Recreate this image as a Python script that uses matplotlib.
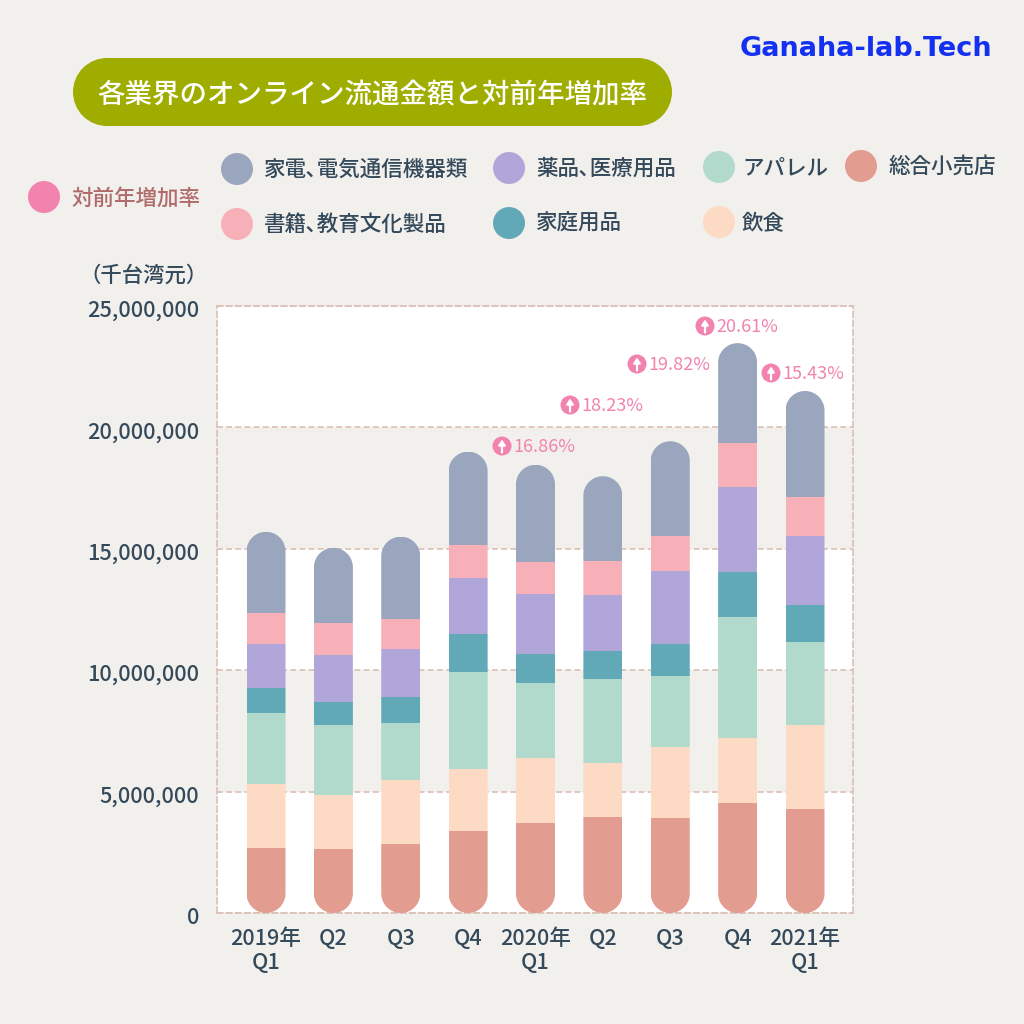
import numpy as np
import matplotlib
matplotlib.use("Agg")
import matplotlib.pyplot as plt
from matplotlib.patches import Circle, Rectangle
from matplotlib.path import Path
from matplotlib.ticker import FuncFormatter
from matplotlib.transforms import ScaledTranslation

plt.rcParams['font.family'] = ['Noto Sans CJK JP', 'DejaVu Sans']

quarters = ['2019年\nQ1', 'Q2', 'Q3', 'Q4', '2020年\nQ1', 'Q2', 'Q3', 'Q4', '2021年\nQ1']
retail     = [2680000, 2640000, 2840000, 3380000, 3710000, 3950000, 3910000, 4530000, 4280000]
food       = [2640000, 2220000, 2640000, 2550000, 2680000, 2220000, 2920000, 2680000, 3460000]
apparel    = [2920000, 2880000, 2350000, 4000000, 3090000, 3460000, 2920000, 4980000, 3420000]
home       = [1030000,  950000, 1070000, 1570000, 1190000, 1150000, 1320000, 1850000, 1520000]
drug       = [1810000, 1940000, 1980000, 2310000, 2470000, 2310000, 3010000, 3500000, 2840000]
books      = [1280000, 1320000, 1240000, 1360000, 1320000, 1400000, 1440000, 1810000, 1610000]
appliances = [3340000, 3090000, 3380000, 3830000, 4000000, 3500000, 3910000, 4120000, 4370000]

series_names = ['総合小売店', '飲食', 'アパレル', '家庭用品', '薬品､医療用品', '書籍､教育文化製品', '家電､電気通信機器類']
series_vals = [retail, food, apparel, home, drug, books, appliances]
series_cols = ['#E29C90', '#FCDAC3', '#B1D9CC', '#62A9B8', '#B0A6D9', '#F8B0B8', '#9AA5BE']

growth_labels = ['16.86%', '18.23%', '19.82%', '20.61%', '15.43%']
growth_pos = [(502, 446), (570, 405), (637, 364), (705, 326), (771, 373)]

BG = '#F2F0ED'
DARK = '#34495A'
PINK = '#F283AE'
DASH = '#D9BFB5'
W, H = 1024, 1024

fig = plt.figure(figsize=(W/100, H/100), dpi=100, facecolor=BG)
L, R, T, B = 217, 853, 306, 913
ax = fig.add_axes([L/W, 1-B/H, (R-L)/W, (B-T)/H])
ax.set_facecolor('white')
unit = 67.375
ax.set_xlim((L-266)/unit, (R-266)/unit)
ax.set_ylim(0, 25000000)

for lo, hi in [(5000000, 10000000), (15000000, 20000000)]:
    ax.axhspan(lo, hi, color=BG, lw=0, zorder=0)
ax.set_axisbelow(True)
ax.yaxis.grid(True, color=DASH, lw=1.2, ls=(0, (3.5, 2)), zorder=1)
for s in ax.spines.values():
    s.set_color(DASH)
    s.set_linewidth(1.2)
    s.set_linestyle((0, (3.5, 2)))

bw_px = 39
bw = bw_px/unit
x = np.arange(len(quarters))
rx = bw/2
ry = (bw_px/2)*25000000/(B-T)
totals = np.sum(series_vals, axis=0)
bottom = np.zeros(len(quarters))
t = np.linspace(0, np.pi, 40)
for vals, col in zip(series_vals, series_cols):
    bars = ax.bar(x, vals, bw, bottom=bottom, color=col, lw=0, zorder=3)
    for i, b in enumerate(bars):
        top = np.c_[x[i]+rx*np.cos(t), totals[i]-ry+ry*np.sin(t)]
        bot = np.c_[x[i]-rx*np.cos(t), ry-ry*np.sin(t)]
        v = np.vstack([top, bot, top[:1]])
        b.set_clip_path(Path(v), ax.transData)
    bottom += np.array(vals)

ax.set_xticks(x)
ax.set_xticklabels(quarters, fontsize=15.6, color=DARK, linespacing=1.12, fontweight='medium')
ax.yaxis.set_major_formatter(FuncFormatter(lambda v, p: f'{int(v):,}'))
ax.set_yticks(np.arange(0, 25000001, 5000000))
ax.tick_params(axis='y', length=0, pad=13, labelsize=15.7, labelcolor=DARK)
ax.tick_params(axis='x', length=0, pad=11)
shift = ScaledTranslation(0, -2.5/100, fig.dpi_scale_trans)
for lab in ax.get_yticklabels():
    lab.set_fontweight('medium')
    lab.set_transform(lab.get_transform() + shift)

ov = fig.add_axes([0, 0, 1, 1], facecolor='none')
ov.set_xlim(0, W)
ov.set_ylim(H, 0)
ov.axis('off')

ov.add_patch(Rectangle((107, 58), 531, 68, fc='#9FAD00', ec='none'))
ov.add_patch(Circle((107, 92), 34, fc='#9FAD00', ec='none'))
ov.add_patch(Circle((638, 92), 34, fc='#9FAD00', ec='none'))
ov.text(372.5, 95, '各業界のオンライン流通金額と対前年増加率', color='white', fontsize=19.8,
        ha='center', va='center', fontweight='medium')
ov.text(866, 49, 'Ganaha-lab.Tech', color='#1430F0', fontsize=19.5, family='DejaVu Sans',
        fontweight='bold', ha='center', va='center')

legend_items = [
    (237, 169, 264, series_names[6], series_cols[6]),
    (509, 168, 536, series_names[4], series_cols[4]),
    (719, 167, 742, series_names[2], series_cols[2]),
    (861, 166, 889, series_names[0], series_cols[0]),
    (237, 224, 264, series_names[5], series_cols[5]),
    (509, 223, 536, series_names[3], series_cols[3]),
    (719, 222, 742, series_names[1], series_cols[1]),
]
for cx, cy, tx, name, col in legend_items:
    ov.add_patch(Circle((cx, cy), 16, fc=col, ec='none'))
    ov.text(tx, cy+1, name, fontsize=15.5, color=DARK, ha='left', va='center', fontweight='medium')
ov.add_patch(Circle((44, 197), 16, fc=PINK, ec='none'))
ov.text(71, 199, '対前年増加率', fontsize=15.5, color='#B06A6A', ha='left', va='center', fontweight='medium')
ov.text(208, 276, '（千台湾元）', fontsize=15.4, color=DARK, ha='right', va='center', fontweight='medium')

for (cx, cy), lab in zip(growth_pos, growth_labels):
    ov.add_patch(Circle((cx, cy), 9.5, fc=PINK, ec='none'))
    ov.annotate('', xy=(cx, cy-6.5), xytext=(cx, cy+6.5),
                arrowprops=dict(arrowstyle='-|>,head_width=0.2,head_length=0.3', color='white', lw=1.6,
                                shrinkA=0, shrinkB=0))
    ov.text(cx+11.5, cy+1, lab, color=PINK, fontsize=13, ha='left', va='center')

fig.savefig('out.png', dpi=100, facecolor=BG)
